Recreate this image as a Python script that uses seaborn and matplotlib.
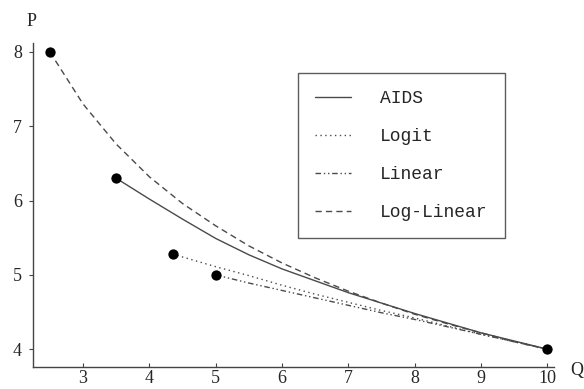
import pandas as pd
import matplotlib
matplotlib.use("Agg")
import matplotlib.pyplot as plt
import seaborn as sns

# curve values (Q, P)
aids_q = [3.5, 4.0, 4.5, 5.0, 5.5, 6.0, 6.5, 7.0, 7.5, 8.0, 8.5, 9.0, 9.5, 10.0]
aids_p = [6.30, 6.02, 5.75, 5.49, 5.27, 5.08, 4.92, 4.76, 4.62, 4.48, 4.35, 4.22, 4.11, 4.00]

logit_q = [4.35, 5.0, 5.5, 6.0, 6.5, 7.0, 7.5, 8.0, 8.5, 9.0, 9.5, 10.0]
logit_p = [5.28, 5.11, 4.99, 4.86, 4.74, 4.63, 4.52, 4.42, 4.31, 4.20, 4.10, 4.00]

linear_q = [5.0, 5.5, 6.0, 6.5, 7.0, 7.5, 8.0, 8.5, 9.0, 9.5, 10.0]
linear_p = [5.00, 4.89, 4.79, 4.69, 4.59, 4.49, 4.40, 4.30, 4.20, 4.10, 4.00]

loglin_q = [2.5, 3.0, 3.5, 4.0, 4.5, 5.0, 5.5, 6.0, 6.5, 7.0, 7.5, 8.0, 8.5, 9.0, 9.5, 10.0]
loglin_p = [8.00, 7.30, 6.76, 6.32, 5.96, 5.66, 5.39, 5.16, 4.96, 4.78, 4.62, 4.47, 4.34, 4.22, 4.10, 4.00]

# starting points of each curve plus the common end point
point_q = [2.5, 3.5, 4.35, 5.0, 10.0]
point_p = [8.0, 6.3, 5.28, 5.0, 4.0]

models = ["AIDS", "Logit", "Linear", "Log-Linear"]

rows = []
for name, qs, ps in [("AIDS", aids_q, aids_p), ("Logit", logit_q, logit_p),
                     ("Linear", linear_q, linear_p), ("Log-Linear", loglin_q, loglin_p)]:
    for q, p in zip(qs, ps):
        rows.append({"Q": q, "P": p, "model": name})
df = pd.DataFrame(rows)

sns.set_style("white")
plt.rcParams["font.family"] = "serif"
plt.rcParams["font.serif"] = ["Liberation Serif", "DejaVu Serif"]

fig = plt.figure(figsize=(5.84, 3.89), dpi=100)
ax = fig.add_axes([33 / 584, 1 - 367 / 389, (554 - 33) / 584, (367 - 43) / 389])

line_col = "#4a4a4a"
dashes = {"AIDS": "", "Logit": (1, 2.5), "Linear": (4, 2, 1, 2, 1, 2), "Log-Linear": (4.5, 3)}
sns.lineplot(data=df, x="Q", y="P", style="model", style_order=models, dashes=dashes,
             color=line_col, linewidth=1.0, sort=False, estimator=None, ax=ax)
sns.scatterplot(x=point_q, y=point_p, color="black", s=55, edgecolor="black",
                linewidth=0, zorder=5, ax=ax, legend=False)

ax.set_xlim(2.246, 10.1)
ax.set_ylim(3.76, 8.12)
ax.set_xticks([3, 4, 5, 6, 7, 8, 9, 10])
ax.set_yticks([4, 5, 6, 7, 8])
ax.set_xlabel("")
ax.set_ylabel("")

for s in ["top", "right"]:
    ax.spines[s].set_visible(False)
for s in ["left", "bottom"]:
    ax.spines[s].set_color("#444444")
    ax.spines[s].set_linewidth(1.0)

ax.tick_params(axis="x", direction="in", length=3, width=0.8, color="#444444",
               pad=2.5, labelsize=13, bottom=True)
ax.tick_params(axis="y", direction="out", length=3, width=0.8, color="#444444",
               pad=5, labelsize=13, left=True)

fig.text(32 / 584, 1 - 22 / 389, "P", fontsize=13, ha="center", va="center")
fig.text(577 / 584, 1 - 370 / 389, "Q", fontsize=13, ha="center", va="center")

handles, labels = ax.get_legend_handles_labels()
keep = [(h, l) for h, l in zip(handles, labels) if l in models]
if ax.get_legend() is not None:
    ax.get_legend().remove()
leg = ax.legend([h for h, _ in keep], [l for _, l in keep],
                loc="upper left", bbox_to_anchor=(298 / 584, 1 - 73 / 389),
                bbox_transform=fig.transFigure, borderaxespad=0,
                fancybox=False, frameon=True,
                prop={"family": "Liberation Mono", "size": 13},
                handlelength=2.0, handletextpad=1.6, labelspacing=1.16,
                borderpad=0.95)
leg.get_frame().set_edgecolor("#333333")
leg.get_frame().set_linewidth(1.0)

fig.savefig("out.png", dpi=100)
